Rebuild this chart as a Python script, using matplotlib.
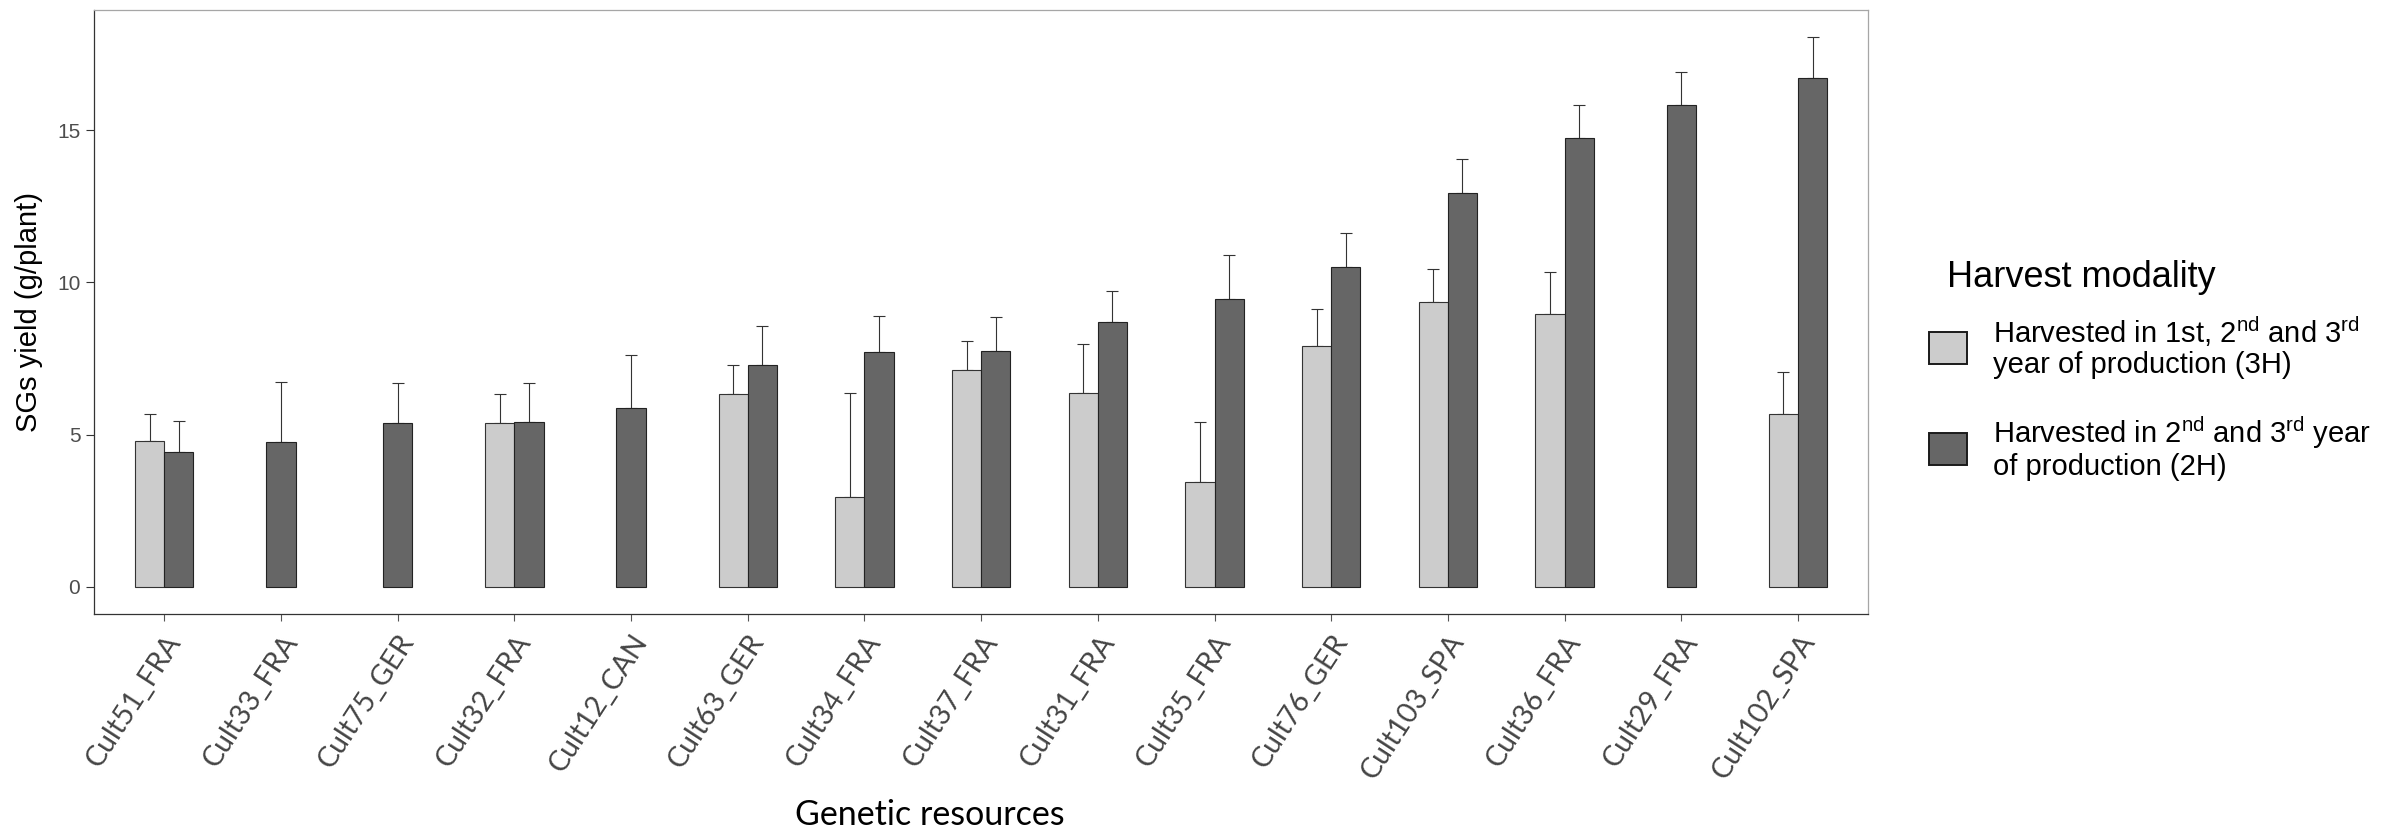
import numpy as np
import matplotlib.pyplot as plt
import matplotlib.transforms as mtransforms
from matplotlib.patches import Patch

plt.rcParams['font.family'] = ['Liberation Sans', 'DejaVu Sans']
plt.rcParams['mathtext.fontset'] = 'custom'
plt.rcParams['mathtext.rm'] = 'Liberation Sans'

cultivars = ['Cult51_FRA', 'Cult33_FRA', 'Cult75_GER', 'Cult32_FRA', 'Cult12_CAN',
             'Cult63_GER', 'Cult34_FRA', 'Cult37_FRA', 'Cult31_FRA', 'Cult35_FRA',
             'Cult76_GER', 'Cult103_SPA', 'Cult36_FRA', 'Cult29_FRA', 'Cult102_SPA']

# mean yield (g/plant) and upper error, NaN = modality not harvested
yield_3h = [4.79, np.nan, np.nan, 5.38, np.nan, 6.32, 2.94, 7.12, 6.37, 3.44,
            7.92, 9.36, 8.95, np.nan, 5.69]
err_3h = [0.89, np.nan, np.nan, 0.96, np.nan, 0.97, 3.43, 0.96, 1.59, 1.98,
          1.21, 1.07, 1.40, np.nan, 1.35]
yield_2h = [4.42, 4.75, 5.38, 5.42, 5.88, 7.29, 7.72, 7.74, 8.70, 9.44,
            10.51, 12.94, 14.74, 15.83, 16.71]
err_2h = [1.04, 1.97, 1.31, 1.27, 1.73, 1.27, 1.19, 1.11, 1.03, 1.45,
          1.11, 1.10, 1.09, 1.07, 1.37]

labels_mod = ['Harvested in 1st, 2$^{\\mathrm{nd}}$ and 3$^{\\mathrm{rd}}$\nyear of production (3H)',
              'Harvested in 2$^{\\mathrm{nd}}$ and 3$^{\\mathrm{rd}}$ year\nof production (2H)']
col_3h = '#CCCCCC'
col_2h = '#666666'

y3 = np.array(yield_3h)
e3 = np.array(err_3h)
y2 = np.array(yield_2h)
e2 = np.array(err_2h)
x = np.arange(len(cultivars))
w = 0.25
has3 = ~np.isnan(y3)
pos3 = x - w / 2
pos2 = np.where(has3, x + w / 2, x)   # lone 2H bars sit on the tick

fig = plt.figure(figsize=(23.86, 8.30), dpi=100)
ax = fig.add_axes([0.0395, 0.2602, 0.7434, 0.7280])

ax.bar(pos3[has3], y3[has3], w, color=col_3h, edgecolor='#333333', linewidth=0.8, zorder=2)
ax.bar(pos2, y2, w, color=col_2h, edgecolor='#222222', linewidth=0.8, zorder=2)
ax.errorbar(pos3[has3], y3[has3], yerr=[np.zeros(has3.sum()), e3[has3]], fmt='none',
            ecolor='#333333', elinewidth=0.8, capsize=4.2, capthick=0.8, zorder=1)
ax.errorbar(pos2, y2, yerr=[np.zeros(len(y2)), e2], fmt='none',
            ecolor='#333333', elinewidth=0.8, capsize=4.2, capthick=0.8, zorder=1)

ax.set_xlim(-0.6, len(cultivars) - 0.4)
ax.set_ylim(-0.9, 18.96)
ax.set_yticks([0, 5, 10, 15])
ax.set_xticks(x)
ax.set_xticklabels(cultivars, rotation=57, ha='right', va='top', rotation_mode='anchor',
                   family='Lato', fontsize=20.5, color='#444444')
shift = mtransforms.ScaledTranslation(0.15, 0, fig.dpi_scale_trans)
for lab in ax.get_xticklabels():
    lab.set_transform(lab.get_transform() + shift)
ax.tick_params(axis='y', labelsize=15, labelcolor='#4D4D4D', color='#333333',
               length=6, width=0.8, pad=4)
ax.tick_params(axis='x', color='#555555', length=5, width=0.8, pad=6.5)

for side in ['left', 'bottom']:
    ax.spines[side].set_color('#333333')
    ax.spines[side].set_linewidth(0.9)
for side in ['top', 'right']:
    ax.spines[side].set_color('#A6A6A6')
    ax.spines[side].set_linewidth(0.9)

ax.set_ylabel('SGs yield (g/plant)', fontsize=21, color='black')
ax.yaxis.set_label_coords(-0.0289, 0.5)
fig.text(929.5 / 2386, 1 - 825 / 830, 'Genetic resources', ha='center', va='baseline',
         family='Lato', fontsize=24.5, color='black')

handles = [Patch(facecolor=col_3h, edgecolor='#1A1A1A', linewidth=1.4),
           Patch(facecolor=col_2h, edgecolor='#1A1A1A', linewidth=1.4)]
leg = fig.legend(handles, labels_mod, loc='upper left',
                 bbox_to_anchor=(1929 / 2386, 1 - 314 / 830), frameon=False, fontsize=21,
                 handlelength=1.3, handleheight=1.3, handletextpad=0.9, labelspacing=1.2,
                 borderpad=0, borderaxespad=0)
for t in leg.get_texts():
    t.set_linespacing(1.12)
fig.text(1947 / 2386, 1 - 286.7 / 830, 'Harvest modality', ha='left', va='baseline',
         fontsize=26, color='black')

fig.savefig('out.png', dpi=100)
